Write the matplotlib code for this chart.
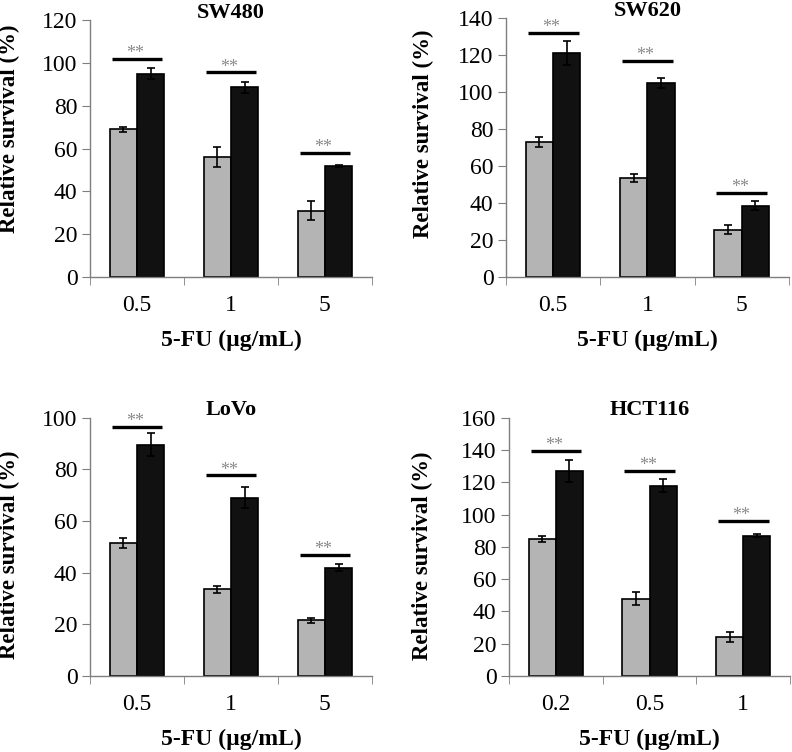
import matplotlib
matplotlib.use("Agg")
import matplotlib.pyplot as plt
import numpy as np

plt.rcParams['font.family'] = ['Liberation Serif', 'DejaVu Serif']

# data
titles = ["SW480", "SW620", "LoVo", "HCT116"]
doses = [["0.5", "1", "5"], ["0.5", "1", "5"], ["0.5", "1", "5"], ["0.2", "0.5", "1"]]
gray_vals = [[69, 56, 31], [73, 53.5, 25.5], [51.5, 33.5, 21.5], [85, 48, 24]]
gray_err = [[1.2, 4.5, 4.5], [2.5, 2, 2.5], [2, 1.5, 1], [2, 4, 3]]
black_vals = [[95, 88.5, 51.8], [121, 105, 38.5], [89.5, 69, 42], [127, 118, 87]]
black_err = [[2.5, 2.5, 0.5], [6.5, 2.5, 2.5], [4.5, 4, 1.5], [7, 4, 1]]
sig_heights = [[102, 95.5, 58], [132, 117, 45.5], [96.5, 77.7, 47], [139.5, 127, 96]]
ymax = [120, 140, 100, 160]
ystep = [20, 20, 20, 20]

# axes positions [left, bottom, width, height] in figure fractions
positions = [
    [0.1136, 0.6316, 0.356, 0.3418],
    [0.6389, 0.6320, 0.357, 0.3437],
    [0.1136, 0.1011, 0.356, 0.3434],
    [0.6427, 0.1011, 0.355, 0.3434],
]
# y-label placement (axes fraction)
ylabel_xy = [(-0.248, 0.575), (-0.254, 0.555), (-0.248, 0.47), (-0.27, 0.465)]

fig = plt.figure(figsize=(7.92, 7.52), dpi=100)
spine_col = '#7f7f7f'
w = 0.29

for i in range(4):
    ax = fig.add_axes(positions[i])
    x = np.arange(3)
    ax.bar(x - w / 2, gray_vals[i], w, color='#b4b4b4', edgecolor='black', linewidth=1.2,
           yerr=gray_err[i], error_kw=dict(ecolor='black', elinewidth=1.2, capsize=3, capthick=1.2))
    ax.bar(x + w / 2, black_vals[i], w, color='#111111', edgecolor='black', linewidth=1.2,
           yerr=black_err[i], error_kw=dict(ecolor='black', elinewidth=1.2, capsize=3, capthick=1.2))

    # significance bars
    for j, h in enumerate(sig_heights[i]):
        ax.plot([j - 0.27, j + 0.27], [h, h], color='black', lw=2.4, solid_capstyle='butt',
                clip_on=False)
        ax.annotate("**", xy=(j - 0.02, h), xytext=(0, 0.5), textcoords='offset points',
                    ha='center', va='baseline', fontsize=13, color='#8a8a8a')

    ax.set_xlim(-0.5, 2.5)
    ax.set_ylim(0, ymax[i])
    ax.set_yticks(np.arange(0, ymax[i] + 1, ystep[i]))
    ax.set_xticks(x)
    ax.set_xticklabels(doses[i])
    ax.set_xticks([-0.5, 0.5, 1.5, 2.5], minor=True)
    ax.tick_params(axis='x', which='major', length=0, pad=13, labelsize=17)
    ax.tick_params(axis='x', which='minor', length=6, color=spine_col, direction='out')
    ax.tick_params(axis='y', length=6, color=spine_col, direction='out', pad=3, labelsize=17)

    for s in ['top', 'right']:
        ax.spines[s].set_visible(False)
    for s in ['left', 'bottom']:
        ax.spines[s].set_color(spine_col)
        ax.spines[s].set_linewidth(1.0)

    ax.set_ylabel("Relative survival (%)", fontsize=16.5, fontweight='bold')
    ax.yaxis.set_label_coords(*ylabel_xy[i])
    ax.set_xlabel("5-FU (µg/mL)", fontsize=17, fontweight='bold', labelpad=10)
    ax.text(0.5, 0.99, titles[i], transform=ax.transAxes, ha='center', va='bottom',
            fontsize=16, fontweight='bold')

fig.savefig("out.png", dpi=100)
